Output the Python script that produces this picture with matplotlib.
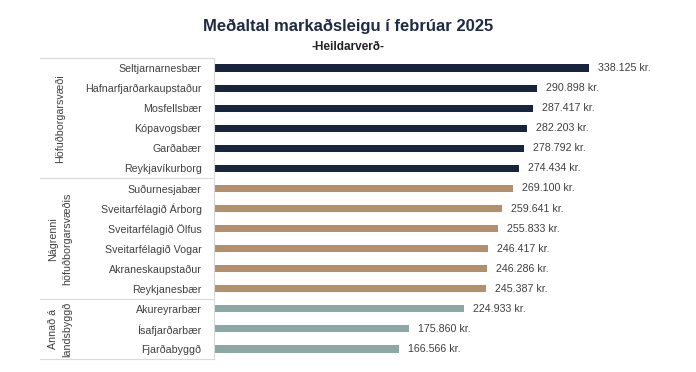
import matplotlib.pyplot as plt

plt.rcParams['font.family'] = ['Liberation Sans', 'DejaVu Sans']

# data
names = ['Seltjarnarnesbær', 'Hafnarfjarðarkaupstaður', 'Mosfellsbær', 'Kópavogsbær',
         'Garðabær', 'Reykjavíkurborg',
         'Suðurnesjabær', 'Sveitarfélagið Árborg', 'Sveitarfélagið Ölfus',
         'Sveitarfélagið Vogar', 'Akraneskaupstaður', 'Reykjanesbær',
         'Akureyrarbær', 'Ísafjarðarbær', 'Fjarðabyggð']
rent = [338125, 290898, 287417, 282203, 278792, 274434,
        269100, 259641, 255833, 246417, 246286, 245387,
        224933, 175860, 166566]
groups = ['Höfuðborgarsvæði', 'Nágrenni\nhöfuðborgarsvæðis', 'Annað á\nlandsbyggð']
group_sizes = [6, 6, 3]
group_colors = ['#17243d', '#b38f6c', '#8ba8a5']

fig = plt.figure(figsize=(6.96, 3.72), dpi=100)
ax = fig.add_axes([0.3075, 0.035, 0.67, 0.809])

colors = []
for c, n in zip(group_colors, group_sizes):
    colors += [c] * n

y = list(range(len(names)))
ax.barh(y, rent, height=0.36, color=colors)
for yi, v in zip(y, rent):
    txt = '{:,}'.format(v).replace(',', '.') + ' kr.'
    ax.annotate(txt, (v, yi), xytext=(6.5, 0), textcoords='offset points',
                va='center', ha='left', fontsize=7.7, color='#404040')

ax.set_ylim(len(names) - 0.5, -0.5)
ax.set_xlim(0, 420000)
ax.set_yticks(y)
ax.set_yticklabels(names, fontsize=7.7, color='#404040')
ax.tick_params(axis='y', length=0, pad=9)
ax.set_xticks([])
for s in ['top', 'right', 'bottom']:
    ax.spines[s].set_visible(False)
ax.spines['left'].set_color('#d9d9d9')
ax.spines['left'].set_linewidth(0.8)

# group boxes to the left of the axis
trans = ax.get_yaxis_transform()
left = -0.373
start = 0
bounds = [-0.5]
for n in group_sizes:
    start += n
    bounds.append(start - 0.5)
for b in bounds:
    ax.plot([left, 0], [b, b], color='#d9d9d9', lw=0.8, transform=trans, clip_on=False)
for g, lo, hi in zip(groups, bounds[:-1], bounds[1:]):
    ax.text(-0.33, (lo + hi) / 2, g, rotation=90, transform=trans,
            ha='center', va='center', fontsize=7.7, color='#404040',
            multialignment='center', linespacing=1.5)

fig.text(0.5, 0.93, 'Meðaltal markaðsleigu í febrúar 2025', ha='center', va='center',
         fontsize=12, fontweight='bold', color='#1f2a44')
fig.text(0.5, 0.875, '-Heildarverð-', ha='center', va='center',
         fontsize=8.5, fontweight='bold', color='#222222')

fig.savefig('out.png', dpi=100)
